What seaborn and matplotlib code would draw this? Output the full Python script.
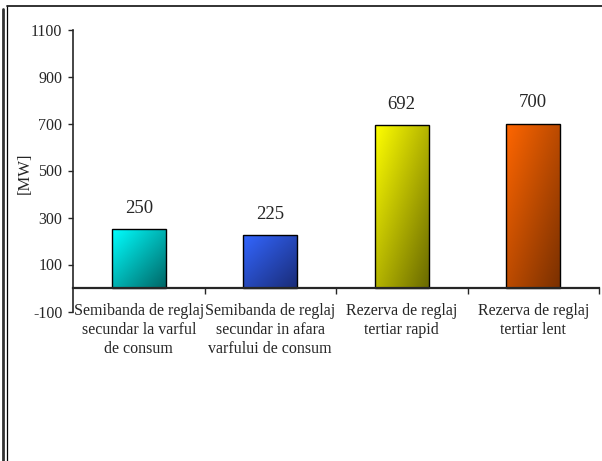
import numpy as np
import matplotlib
matplotlib.use("Agg")
import matplotlib.pyplot as plt
import seaborn as sns
from matplotlib.colors import to_rgb
from matplotlib.lines import Line2D

categories = [
    "Semibanda de reglaj\nsecundar la varful\nde consum",
    "Semibanda de reglaj\nsecundar in afara\nvarfului de consum",
    "Rezerva de reglaj\ntertiar rapid",
    "Rezerva de reglaj\ntertiar lent",
]
values = [250, 225, 692, 700]
light = ["#00ffff", "#3366ff", "#ffff00", "#ff6600"]
dark = ["#006666", "#1a2c78", "#6a6a00", "#7a3000"]
yticks = [-100, 100, 300, 500, 700, 900, 1100]

sns.set_theme(style="white")
plt.rcParams["font.family"] = ["Liberation Serif", "DejaVu Serif"]

fig = plt.figure(figsize=(6.02, 4.61), dpi=100)
ax = fig.add_axes([73 / 602, 1 - 311.5 / 461, 526 / 602, 282 / 461])

sns.barplot(x=categories, y=values, hue=categories, palette=light, width=0.41,
            edgecolor="black", linewidth=1, legend=False, ax=ax)

# gradient fill for each bar (light top-left, dark bottom-right)
for patch, c1, c2 in zip(ax.patches, light, dark):
    x0, y0 = patch.get_x(), patch.get_y()
    w, h = patch.get_width(), patch.get_height()
    gx, gy = np.meshgrid(np.linspace(0, 1, 60), np.linspace(0, 1, 60))
    t = (gx + gy) / 2
    a, b = np.array(to_rgb(c1)), np.array(to_rgb(c2))
    img = a[None, None, :] * (1 - t[..., None]) + b[None, None, :] * t[..., None]
    im = ax.imshow(img, extent=[x0, x0 + w, y0, y0 + h], origin="upper",
                   aspect="auto", zorder=1)
    im.set_clip_path(patch)
    patch.set_facecolor("none")
    patch.set_zorder(2)

ax.set_xlim(-0.5, 3.5)
ax.set_ylim(-100, 1100)

for i, v in enumerate(values):
    ax.annotate(str(v), (i, v), xytext=(0, 15), textcoords="offset points",
                ha="center", va="center", fontsize=13.5)

ax.set_yticks(yticks)
ax.set_yticklabels([str(t) for t in yticks], fontsize=11.5)
ax.tick_params(axis="y", direction="out", length=3.6, width=1, pad=4, left=True)
ax.set_ylabel("[MW]", fontsize=12)
ax.yaxis.set_label_coords(-0.076, 0.49)

ax.spines["top"].set_visible(False)
ax.spines["right"].set_visible(False)
ax.spines["left"].set_linewidth(1.2)
ax.spines["bottom"].set_position(("data", 0))
ax.spines["bottom"].set_linewidth(1.6)
ax.spines["bottom"].set_zorder(3)

ax.set_xticks(range(len(categories)))
ax.set_xticklabels(categories, fontsize=11.5, linespacing=1.25)
ax.set_xticks([0.5, 1.5, 2.5, 3.5], minor=True)
ax.tick_params(axis="x", which="major", length=0, pad=11)
ax.tick_params(axis="x", which="minor", direction="out", length=4, width=1, bottom=True)
ax.set_xlabel("")

# outer frame
fig.add_artist(Line2D([2.5 / 602, 2.5 / 602], [0, 1 - 9 / 461], transform=fig.transFigure,
                      color="#333333", lw=2))
fig.add_artist(Line2D([6.5 / 602, 6.5 / 602], [0, 1 - 6.5 / 461], transform=fig.transFigure,
                      color="black", lw=0.9))
fig.add_artist(Line2D([6.5 / 602, 1], [1 - 6.5 / 461, 1 - 6.5 / 461], transform=fig.transFigure,
                      color="#222222", lw=1.3))

fig.savefig("out.png", dpi=100, facecolor="white")
